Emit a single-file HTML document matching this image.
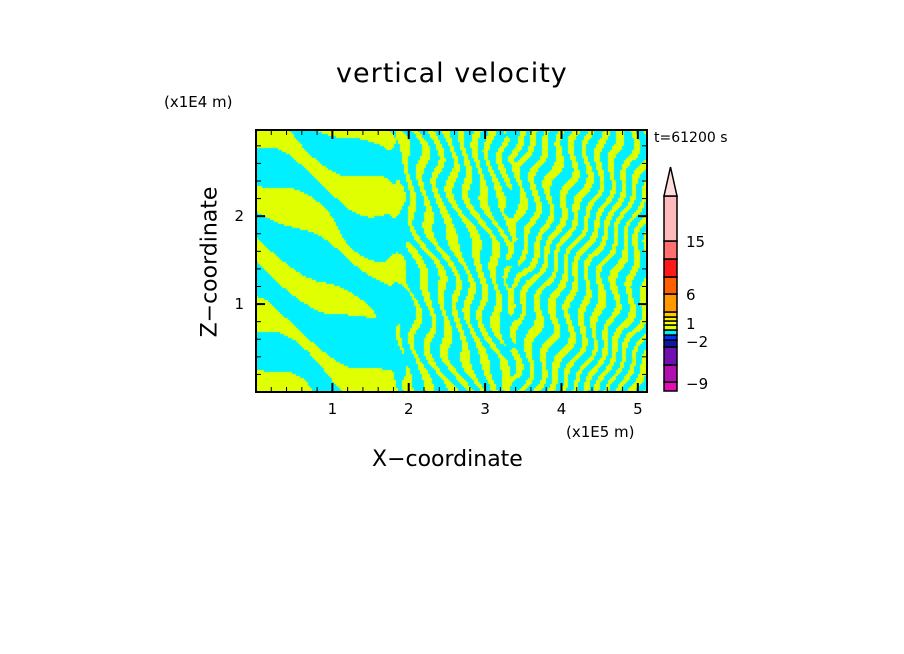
<!DOCTYPE html>
<html><head><meta charset="utf-8"><style>
body{margin:0;background:#fff;width:904px;height:654px;overflow:hidden;position:relative;font-family:"DejaVu Sans","Liberation Sans",sans-serif}
.t{position:absolute;white-space:nowrap;color:#000}
</style></head><body>
<div class="t" style="left:336px;top:58px;font-size:27px;letter-spacing:1px">vertical velocity</div>
<div class="t" style="left:164px;top:93px;font-size:15px">(x1E4 m)</div>
<div class="t" style="left:566px;top:423px;font-size:15px">(x1E5 m)</div>
<div class="t" style="left:654px;top:130px;font-size:14px">t=61200 s</div>
<div class="t" style="left:372px;top:447px;font-size:22px">X−coordinate</div>
<div class="t" style="left:210px;top:262px;font-size:22px;transform:translate(-50%,-50%) rotate(-90deg)">Z−coordinate</div>
<canvas id="field" width="391" height="262" style="position:absolute;left:256px;top:130px"></canvas>
<svg id="ov" width="904" height="654" style="position:absolute;left:0;top:0"></svg>
<script>
const xTicks=[1,2,3,4,5];
const zTicks=[1,2];
const cbLevels=[-9,-2,1,6,15];
const cbColors=["#e010b0","#b010b0","#7010b0","#0a1aa0","#0033ff","#00eeff","#e0ff00","#ffff00","#ffee00","#ffcc00","#ff9900","#ff6000","#ff1a1a","#ff7070","#ffbbbb"];
const cbBounds=[391,382,365,347,340,335,330,325,321,317,312,294,277,259,241,196];
const xMax=5.12, zMax=2.98;
const L=256,T=130,W=391,H=262;
function sx(v){return L+v/xMax*W}
function sz(v){return T+H-v/zMax*H}
const NS="http://www.w3.org/2000/svg";
const svg=document.getElementById('ov');
function mk(tag,attrs){const e=document.createElementNS(NS,tag);for(const k in attrs)e.setAttribute(k,attrs[k]);svg.appendChild(e);return e}
// field
const ctx=document.getElementById('field').getContext('2d');
function ss(a,b,v){const t=Math.min(1,Math.max(0,(v-a)/(b-a)));return t*t*(3-2*t)}
const P=2*Math.PI;
for(let j=0;j<H;j+=2){for(let i=0;i<W;i+=2){
 const wx=i+6*Math.sin(j/23+i/41)+4*Math.sin(j/9-i/17);
 const wy=j+8*Math.sin(i/31+1.3)+5*Math.sin(i/13-j/29);
 const s1=Math.sin(P*(-0.45*wx+wy)/62+0.8)+0.5*Math.sin(P*(wx*0.2+wy)/90+2);
 const s2=Math.sin(P*(wx-0.25*wy)/15);
 const s3=Math.sin(P*(wx+0.3*wy)/14+1);
 const w2=ss(120,170,i)*(1-ss(230,280,i));
 const w3=ss(230,280,i);
 const w1=1-ss(120,170,i);
 let bias=-0.55*Math.exp(-(((i-110)/50)**2+((j-190)/60)**2));
 let a=w1*s1+w2*s2+w3*s3+0.25*Math.sin(i/7+j/11)*(w2+w3)+bias;
 ctx.fillStyle=a>0.15?"#e0ff00":"#00f0ff";ctx.fillRect(i,j,2,2);
}}
// frame
mk('rect',{x:L,y:T,width:W,height:H,fill:'none',stroke:'#000','stroke-width':2});
for(let v=0.2;v<xMax;v+=0.2){const major=Math.abs(v-Math.round(v))<0.01;const x=sx(v);const len=major?9:5;
 mk('line',{x1:x,y1:T+H,x2:x,y2:T+H-len,stroke:'#000','stroke-width':major?2:1});
 mk('line',{x1:x,y1:T,x2:x,y2:T+len,stroke:'#000','stroke-width':major?2:1});}
for(let v=0.2;v<zMax;v+=0.2){const major=Math.abs(v-Math.round(v))<0.01;const y=sz(v);const len=major?9:5;
 mk('line',{x1:L,y1:y,x2:L+len,y2:y,stroke:'#000','stroke-width':major?2:1});
 mk('line',{x1:L+W,y1:y,x2:L+W-len,y2:y,stroke:'#000','stroke-width':major?2:1});}
xTicks.forEach(v=>{const t=mk('text',{x:sx(v),y:414,'font-size':15,'text-anchor':'middle','font-family':'DejaVu Sans,sans-serif'});t.textContent=v;
 
 });
zTicks.forEach(v=>{const t=mk('text',{x:244,y:sz(v)+5,'font-size':15,'text-anchor':'end','font-family':'DejaVu Sans,sans-serif'});t.textContent=v;
 
 });
// colorbar
const cx=664,cw=13;
cbColors.forEach((c,k)=>{const r=mk('rect',{x:cx,y:cbBounds[k+1],width:cw,height:cbBounds[k]-cbBounds[k+1],fill:c,stroke:'#000','stroke-width':1.5});
 
 });
const tri=mk('polygon',{points:`${cx},196 ${cx+cw},196 ${cx+cw/2},167`,fill:'#ffdddd',stroke:'#000','stroke-width':1.5});


const labY={"-9":383,"-2":341,"1":323,"6":294,"15":241};
cbLevels.forEach(v=>{const t=mk('text',{x:686,y:labY[v]+6,'font-size':15,'font-family':'DejaVu Sans,sans-serif'});t.textContent=v<0?'−'+(-v):v;
 
 });
</script>
</body></html>
